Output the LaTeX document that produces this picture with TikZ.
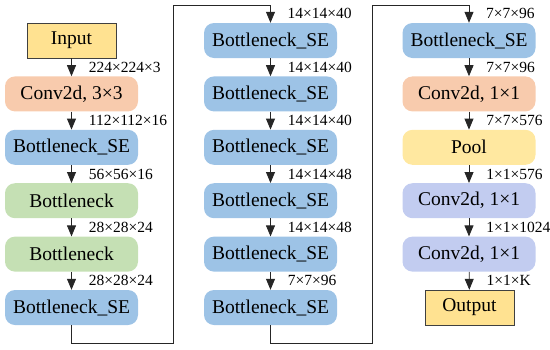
\documentclass[tikz,border=0pt]{standalone}
\usepackage{fontspec}
\setmainfont{Liberation Serif}
\usetikzlibrary{arrows.meta,positioning,calc}
\definecolor{seblue}{RGB}{157,195,230}
\definecolor{convorange}{RGB}{248,203,173}
\definecolor{bngreen}{RGB}{197,224,180}
\definecolor{poolyellow}{RGB}{255,232,160}
\definecolor{iofill}{RGB}{255,226,145}
\definecolor{lavender}{RGB}{194,204,240}

\begin{document}
\begin{tikzpicture}[x=1pt, y=-1pt,
  block/.style={rounded corners=10pt, minimum width=133pt, minimum height=35pt, inner sep=0pt, font=\rmfamily\fontsize{19.5}{22}\selectfont},
  io/.style={draw=black!75, fill=iofill, minimum width=89pt, minimum height=35pt, inner sep=0pt, font=\rmfamily\fontsize{19.5}{22}\selectfont},
  arr/.style={-{Triangle[length=11pt,width=9pt]}, line width=0.8pt, draw=black!85},
  dim/.style={font=\rmfamily\fontsize{15.5}{17}\selectfont, anchor=west, inner sep=0pt}
]
\useasboundingbox (0,0) rectangle (550,349);
% Column 1
\node[io] (a1) at (71.5,40.5) {Input};
\foreach \i/\t/\c in {2/{Conv2d, 3×3}/convorange, 3/Bottleneck\_SE/seblue,
                      4/Bottleneck/bngreen, 5/Bottleneck/bngreen, 6/Bottleneck\_SE/seblue} {
  \node[block, fill=\c] (a\i) at (71.5, 40.5+53.4*\i-53.4) {\t};
}
% Column 2
\foreach \i in {1,...,6} {
  \node[block, fill=seblue] (b\i) at (270.5, 40.5+53.4*\i-53.4) {Bottleneck\_SE};
}
% Column 3
\foreach \i/\t/\c in {1/Bottleneck\_SE/seblue, 2/{Conv2d, 1×1}/convorange, 3/Pool/poolyellow,
                      4/{Conv2d, 1×1}/lavender, 5/{Conv2d, 1×1}/lavender} {
  \node[block, fill=\c] (c\i) at (469, 40.5+53.4*\i-53.4) {\t};
}
\node[io] (c6) at (469.5,307.5) {Output};
% arrows inside the columns
\foreach \col/\i/\d in {a/1/224×224×3, a/2/112×112×16, a/3/56×56×16, a/4/28×28×24, a/5/28×28×24,
                        b/1/14×14×40, b/2/14×14×40, b/3/14×14×48, b/4/14×14×48, b/5/7×7×96,
                        c/1/7×7×96, c/2/7×7×576, c/3/1×1×576, c/4/1×1×1024, c/5/1×1×K} {
  \pgfmathtruncatemacro\j{\i+1}
  \draw[arr] (\col\i) -- (\col\j) node[dim, midway, xshift=17pt] {\d};
}
% links between the columns
\coordinate (turn1) at (173,5);
\coordinate (turn2) at (372.5,5);
\draw[arr] (a6.south) -- ++(0,18) -| (turn1) -| (b1.north);
\draw[arr] (b6.south) -- ++(0,18) -| (turn2) -| (c1.north);
\node[dim] (lb0) at ([xshift=17pt, yshift=9pt]b1.north) {14×14×40};
\node[dim] (lc0) at ([xshift=17pt, yshift=9pt]c1.north) {7×7×96};
\end{tikzpicture}
\end{document}
